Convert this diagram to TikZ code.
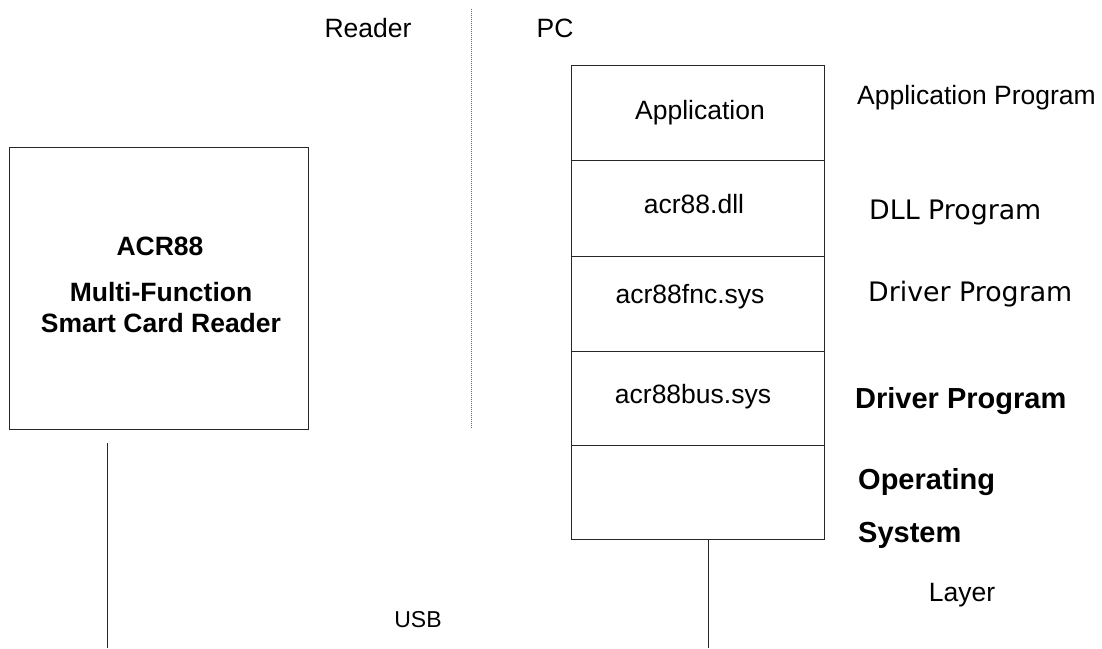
\documentclass[tikz,border=0pt]{standalone}
\usepackage{fontspec}
\setmainfont{Liberation Sans}
\newfontfamily\dvsans{DejaVu Sans}
\begin{document}
\begin{tikzpicture}[x=1pt,y=-1pt,
  txt/.style={inner sep=0pt,font=\fontsize{26.5}{30}\selectfont},
  btxt/.style={inner sep=0pt,font=\fontsize{26.5}{30}\selectfont\bfseries},
  rbtxt/.style={inner sep=0pt,font=\fontsize{29}{33}\selectfont\bfseries},
  dtxt/.style={inner sep=0pt,font=\fontsize{26.8}{30}\selectfont\dvsans},
  boxline/.style={draw=black!85,line width=1.3pt},
  layer/.style={boxline,minimum width=253pt,inner sep=0pt,anchor=north west},
  wire/.style={draw=black!85,line width=1pt}]
\useasboundingbox (0,0) rectangle (1102,648);
% reader box
\node[boxline,minimum width=299pt,minimum height=282pt,inner sep=0pt,anchor=north west] (reader) at (9,147) {};
\node[btxt,anchor=base] (acr) at (160,255) {ACR88};
\node[btxt,anchor=base] (mf) at (161,301) {Multi-Function};
\node[btxt,anchor=base] (scr) at (161,332) {Smart Card Reader};
% divider
\coordinate (dtop) at (471,9);
\coordinate (dbot) at (471,429);
\draw[black!60,line width=1pt,dash pattern=on 1pt off 1pt] (dtop) -- (dbot);
\node[txt,anchor=base] (lreader) at (368,37) {Reader};
\node[txt,anchor=base] (lpc) at (555,37) {PC};
% PC stack
\node[layer,minimum height=95pt] (r1) at (571,65) {};
\node[layer,minimum height=96pt] (r2) at (571,160) {};
\node[layer,minimum height=95pt] (r3) at (571,256) {};
\node[layer,minimum height=94pt] (r4) at (571,351) {};
\node[layer,minimum height=94pt] (r5) at (571,445) {};
\node[txt,anchor=base] (tapp) at (700,119) {Application};
\node[txt,anchor=base] (tdll) at (694,213) {acr88.dll};
\node[txt,anchor=base] (tfnc) at (690,303) {acr88fnc.sys};
\node[txt,anchor=base] (tbus) at (693,403) {acr88bus.sys};
% right labels
\node[txt,anchor=base west] (lapp) at (857,104) {Application Program};
\node[dtxt,anchor=base west] (ldll) at (869,219) {DLL Program};
\node[dtxt,anchor=base west] (ldrv) at (868,301) {Driver Program};
\node[rbtxt,anchor=base west] (ldrvb) at (855,408) {Driver Program};
\node[rbtxt,anchor=base west] (los) at (858,489) {Operating};
\node[rbtxt,anchor=base west] (lsys) at (858,542) {System};
\node[txt,anchor=base] (llayer) at (962,601) {Layer};
% USB wires
\coordinate (w1top) at (107,443);
\coordinate (w1bot) at (107,648);
\coordinate (w2bot) at (708,648);
\draw[wire] (w1top) -- (w1bot);
\draw[wire] (r5.south -| w2bot) -- (w2bot);
\node[inner sep=0pt,font=\fontsize{23}{26}\selectfont,anchor=base] (usb) at (418,627) {USB};
\end{tikzpicture}
\end{document}
